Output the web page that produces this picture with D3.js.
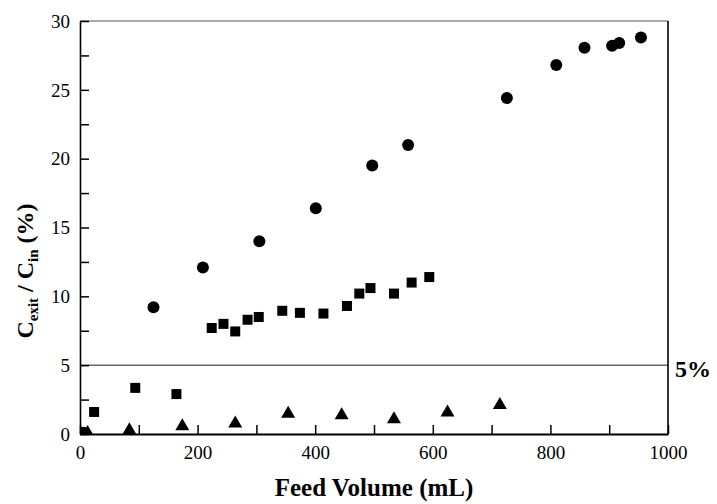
<!DOCTYPE html>
<html><head><meta charset="utf-8">
<script src="https://cdn.jsdelivr.net/npm/d3@7"></script>
<style>body{margin:0;background:#fff}svg{display:block}
svg text{font-family:"Liberation Serif","Times New Roman",Times,"Nimbus Roman","Noto Serif","DejaVu Serif",serif !important;fill:#000}</style>
</head><body>
<script>
const circleX = [125, 209, 305, 401, 497, 558, 726, 810, 858, 905, 917, 954];
const circleY = [9.2, 12.1, 14.0, 16.4, 19.5, 21.0, 24.4, 26.8, 28.05, 28.2, 28.4, 28.8];
const squareX = [2, 24, 94, 164, 224, 244, 264, 285, 304, 344, 374, 414, 454, 475, 494, 534, 564, 594];
const squareY = [0.15, 1.6, 3.35, 2.9, 7.7, 8.0, 7.45, 8.3, 8.5, 8.95, 8.8, 8.75, 9.3, 10.2, 10.6, 10.2, 11.0, 11.4];
const triX = [13, 84, 174, 264, 354, 445, 534, 625, 714];
const triY = [0.1, 0.3, 0.6, 0.8, 1.5, 1.4, 1.1, 1.6, 2.15];
const xTicks = [0, 200, 400, 600, 800, 1000];
const yTicks = [0, 5, 10, 15, 20, 25, 30];
const limitValue = 5;

const W = 717, H = 504;
const m = {l: 80, r: 49, t: 21, b: 70};
const svg = d3.select("body").append("svg").attr("width", W).attr("height", H);
const x = d3.scaleLinear().domain([0, 1000]).range([m.l, W - m.r]);
const y = d3.scaleLinear().domain([0, 30]).range([H - m.b, m.t]);

svg.append("defs").append("clipPath").attr("id", "clip")
  .append("rect").attr("x", m.l).attr("y", m.t).attr("width", x(1000) - m.l).attr("height", y(0) - m.t);

// limit line
svg.append("line").attr("x1", x(0)).attr("x2", x(1000)).attr("y1", y(limitValue)).attr("y2", y(limitValue))
  .attr("stroke", "#666").attr("stroke-width", 1.5);
svg.append("text").attr("x", x(1000) + 7).attr("y", y(limitValue) + 12)
  .attr("font-weight", "bold").attr("font-size", 24).text("5%");

// frame
svg.append("line").attr("x1", x(0)).attr("x2", x(1000)).attr("y1", y(30)).attr("y2", y(30)).attr("stroke", "#555").attr("stroke-width", 1.2);
svg.append("line").attr("x1", x(1000)).attr("x2", x(1000)).attr("y1", y(30)).attr("y2", y(0)).attr("stroke", "#000").attr("stroke-width", 1.6);

// axes
const xAxis = d3.axisBottom(x).tickValues(d3.range(0, 1001, 100)).tickSizeInner(-9).tickSizeOuter(0)
  .tickFormat(d => xTicks.includes(d) ? d : "");
const gx = svg.append("g").attr("transform", `translate(0,${y(0)})`).call(xAxis);
gx.select(".domain").attr("stroke-width", 2);
gx.selectAll(".tick line").attr("stroke-width", 1.5);
gx.selectAll(".tick text").attr("font-size", 19).attr("dy", 0).attr("y", 25);

const yAxis = d3.axisLeft(y).tickValues(d3.range(0, 30.1, 2.5)).tickSizeInner(-9).tickSizeOuter(0)
  .tickFormat(d => yTicks.includes(d) ? d : "");
const gy = svg.append("g").attr("transform", `translate(${x(0)},0)`).call(yAxis);
gy.select(".domain").attr("stroke-width", 1.6);
gy.selectAll(".tick line").attr("stroke-width", 1.5);
gy.selectAll(".tick text").attr("font-size", 19).attr("x", -10).attr("dy", "0.33em");

// markers
const pts = svg.append("g").attr("clip-path", "url(#clip)");
pts.selectAll("circle.c").data(circleX).join("circle")
  .attr("cx", d => x(d)).attr("cy", (d, i) => y(circleY[i])).attr("r", 6).attr("fill", "#000");
pts.selectAll("rect.s").data(squareX).join("rect")
  .attr("x", d => x(d) - 5).attr("y", (d, i) => y(squareY[i]) - 5).attr("width", 10).attr("height", 10).attr("fill", "#000");
pts.selectAll("path.t").data(triX).join("path")
  .attr("d", (d, i) => { const cx = x(d), cy = y(triY[i]); return `M${cx},${cy - 7.5}L${cx + 7},${cy + 4.5}L${cx - 7},${cy + 4.5}Z`; })
  .attr("fill", "#000");

// axis labels
svg.append("text").attr("x", (x(0) + x(1000)) / 2).attr("y", H - 8).attr("text-anchor", "middle")
  .attr("font-weight", "bold").attr("font-size", 25).text("Feed Volume (mL)");

const yl = svg.append("text").attr("transform", `translate(33,271) rotate(-90)`).attr("text-anchor", "middle")
  .attr("font-weight", "bold").attr("font-size", 24);
yl.append("tspan").text("C");
yl.append("tspan").attr("font-size", 15).attr("dy", 5).text("exit");
yl.append("tspan").attr("dy", -5).text(" / C");
yl.append("tspan").attr("font-size", 15).attr("dy", 5).text("in");
yl.append("tspan").attr("dy", -5).text(" (%)");
</script>
</body></html>
